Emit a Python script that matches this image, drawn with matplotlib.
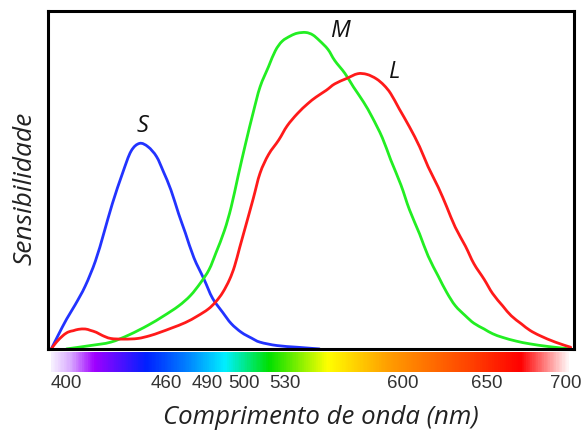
import matplotlib.pyplot as plt
import numpy as np
from matplotlib.colors import LinearSegmentedColormap
from matplotlib.path import Path
from matplotlib.patches import PathPatch

# cone sensitivity curves (wavelength nm, relative sensitivity)
s_wl = [392, 396, 401, 406, 412, 418, 423, 428, 434, 439, 444, 449, 454, 458, 462.5, 467, 471, 476, 482, 487, 493, 498, 504, 510, 515, 525, 537, 550]
s_val = [0.0, 0.04, 0.088, 0.13, 0.186, 0.26, 0.343, 0.43, 0.52, 0.585, 0.608, 0.598, 0.569, 0.525, 0.47, 0.40, 0.343, 0.27, 0.206, 0.15, 0.108, 0.075, 0.049, 0.032, 0.02, 0.01, 0.005, 0.0]

m_wl = [401, 415, 427, 438, 449, 458, 467, 474, 480, 485, 489, 494, 498, 502, 506.5, 511, 515, 520, 524, 528, 533, 537, 542, 546, 550, 555, 559, 565, 570, 576, 581, 587, 592, 598, 603, 609, 614, 620, 625, 630, 636, 641, 647, 652, 658, 666, 674, 685, 698]
m_val = [0.0, 0.01, 0.02, 0.042, 0.07, 0.097, 0.127, 0.158, 0.196, 0.235, 0.284, 0.35, 0.42, 0.51, 0.608, 0.70, 0.775, 0.835, 0.882, 0.91, 0.926, 0.934, 0.936, 0.929, 0.912, 0.886, 0.853, 0.815, 0.775, 0.73, 0.686, 0.625, 0.559, 0.485, 0.412, 0.34, 0.275, 0.215, 0.167, 0.128, 0.098, 0.076, 0.059, 0.045, 0.034, 0.023, 0.015, 0.007, 0.0]

l_wl = [392, 395, 399, 402, 405, 408, 412, 415, 418.6, 422, 427, 435, 443, 450, 456, 463, 471, 478, 484.5, 489, 493, 497, 500, 503, 506.5, 511, 515, 520, 526, 531, 537, 543, 548, 554, 559, 566, 572.5, 578, 583.5, 588, 592, 597, 603, 609, 614, 620, 625, 630, 636, 641, 647, 652, 658, 663, 669, 674, 680, 689, 698]
l_val = [0.0, 0.02, 0.04, 0.05, 0.054, 0.058, 0.059, 0.055, 0.049, 0.04, 0.031, 0.029, 0.031, 0.039, 0.049, 0.062, 0.078, 0.097, 0.118, 0.14, 0.167, 0.205, 0.245, 0.30, 0.363, 0.445, 0.52, 0.575, 0.618, 0.66, 0.696, 0.725, 0.745, 0.765, 0.784, 0.80, 0.814, 0.812, 0.799, 0.78, 0.755, 0.71, 0.657, 0.598, 0.539, 0.478, 0.42, 0.36, 0.304, 0.252, 0.206, 0.164, 0.127, 0.098, 0.074, 0.055, 0.039, 0.02, 0.005]

# spectrum strip colour stops
spec_wl = [391, 402, 416, 447, 471, 494, 520, 555, 590, 641, 670, 698]
spec_col = ["#f6efff", "#d8a8ff", "#a000ff", "#0020ff", "#0080ff", "#00f0ff",
            "#00e000", "#ffff00", "#ffa000", "#ff4000", "#ff0000", "#fff4f4"]

tick_wl = [400, 460, 490, 500, 530, 600, 650, 700]
tick_pos = [400.6, 459.5, 483.7, 505.5, 529.7, 599, 648.7, 695]


def smooth_curve(ax, x, y, color):
    # draw the read points as a smooth bezier path (catmull-rom control points)
    p = np.column_stack([x, y])
    verts = [p[0]]
    codes = [Path.MOVETO]
    n = len(p)
    for i in range(n - 1):
        p0 = p[i - 1] if i > 0 else p[i]
        p3 = p[i + 2] if i + 2 < n else p[i + 1]
        c1 = p[i] + (p[i + 1] - p0) / 6
        c2 = p[i + 1] - (p3 - p[i]) / 6
        verts += [c1, c2, p[i + 1]]
        codes += [Path.CURVE4] * 3
    ax.add_patch(PathPatch(Path(verts, codes), fill=False, edgecolor=color,
                           lw=2.0, capstyle="round", joinstyle="round"))


fig = plt.figure(figsize=(5.84, 4.34), dpi=100)
ax = fig.add_axes([0.082, 0.196, 0.901, 0.779])

smooth_curve(ax, s_wl, s_val, "#2233ff")
smooth_curve(ax, m_wl, m_val, "#22ee22")
smooth_curve(ax, l_wl, l_val, "#ff1a1a")

ax.set_xlim(390, 700)
ax.set_ylim(0, 1)
ax.set_xticks([])
ax.set_yticks([])
for sp in ax.spines.values():
    sp.set_linewidth(2.2)
    sp.set_color("black")

lab = dict(fontsize=17, style="italic", family="Open Sans", color="#111111")
ax.text(446, 0.66, "S", ha="center", va="center", **lab)
ax.text(562, 0.94, "M", ha="center", va="center", **lab)
ax.text(594.5, 0.82, "L", ha="center", va="center", **lab)

fig.text(0.043, 0.567, "Sensibilidade", rotation=90, ha="center", va="center",
         fontsize=19, style="italic", family="Open Sans", color="#222222")

# spectrum strip
bar = fig.add_axes([0.085, 0.143, 0.895, 0.046])
span = spec_wl[-1] - spec_wl[0]
stops = [((w - spec_wl[0]) / span, c) for w, c in zip(spec_wl, spec_col)]
cmap = LinearSegmentedColormap.from_list("spec", stops)
grad = np.linspace(0, 1, 600).reshape(1, -1)
bar.imshow(grad, aspect="auto", cmap=cmap, extent=[spec_wl[0], spec_wl[-1], 0, 1])
bar.set_xlim(390, 700)
bar.axis("off")

for w, p in zip(tick_wl, tick_pos):
    fig.text(0.082 + 0.901 * (p - 390) / 310, 0.117, str(w), ha="center", va="center",
             fontsize=13.5, family="Liberation Sans", color="#333333")

fig.text(0.549, 0.037, "Comprimento de onda (nm)", ha="center", va="center",
         fontsize=18.5, style="italic", family="Open Sans", color="#222222")

fig.savefig("out.png", dpi=100)
